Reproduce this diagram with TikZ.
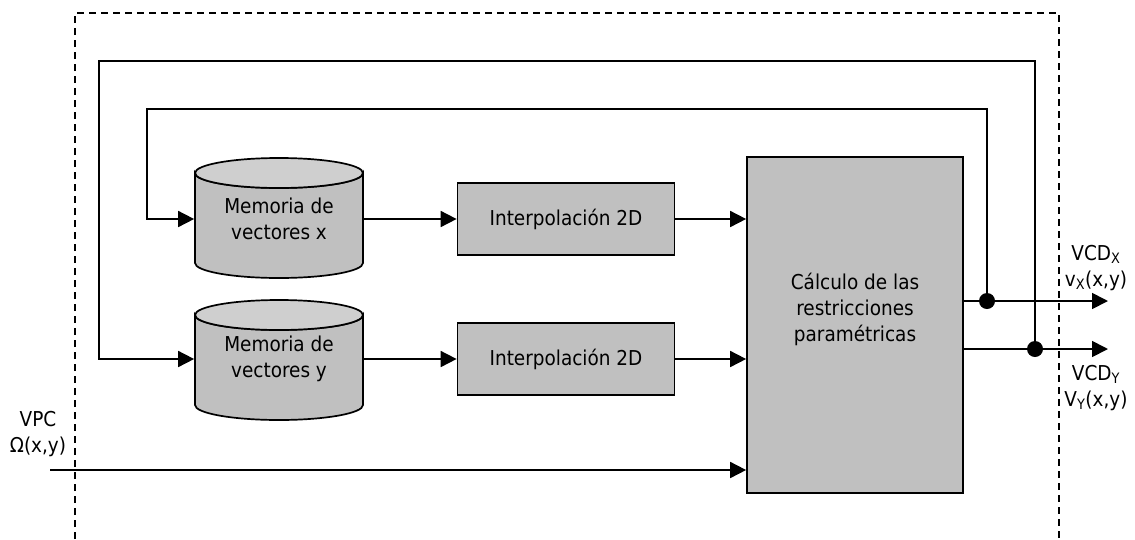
\documentclass[tikz,border=0pt]{standalone}
\usepackage{fontspec}
\setmainfont{DejaVu Sans Condensed}
\usetikzlibrary{arrows.meta,calc}
\definecolor{boxgray}{HTML}{C0C0C0}
\definecolor{lidgray}{HTML}{CFCFCF}
% cylinder outline: #1,#2 = centre, half width 84, body half height 45, end radius 15
\newcommand\memcyl[2]{%
  \filldraw[fill=boxgray] (#1-84,#2-45) -- (#1-84,#2+45)
    arc[start angle=180,end angle=0,x radius=84,y radius=15]
    -- (#1+84,#2-45)
    arc[start angle=0,end angle=180,x radius=84,y radius=15] -- cycle;
  \filldraw[fill=lidgray] (#1,#2-45) ellipse[x radius=84,y radius=15];
}
\begin{document}
\begin{tikzpicture}[x=1pt,y=-1pt,line width=1.7pt,
  txt/.style={font=\fontsize{20.5}{26}\selectfont,align=center,inner sep=0pt},
  block/.style={txt,draw,fill=boxgray},
  holder/.style={txt,minimum width=168pt,minimum height=120pt},
  flow/.style={-{Triangle[length=16pt,width=16pt]}},
  border/.style={line width=1.5pt,dash pattern=on 7pt off 5pt},
  junction/.style={circle,fill=black,inner sep=0pt,minimum size=16pt}]
\useasboundingbox (0,0) rectangle (1135,539);

% outer dashed frame (open at the bottom)
\draw[border] (75,539) -- (75,13) -- (1059,13) -- (1059,539);

% vector memories
\memcyl{279}{218}
\memcyl{279}{360}
\node[holder] (mx) at (279,219) {Memoria de\\vectores x};
\node[holder] (my) at (279,359) {Memoria de\\vectores y};

% interpolation blocks
\node[block,minimum width=217pt,minimum height=72pt] (ix) at (566,219) {Interpolación 2D};
\node[block,minimum width=217pt,minimum height=72pt] (iy) at (566,359) {Interpolación 2D};

% constraint block
\node[block,minimum width=216pt,minimum height=336pt] (calc) at (855,325) {};
\node[txt] (calctxt) at (855,309) {Cálculo de las\\restricciones\\paramétricas};

% junctions and free ends
\node[junction] (j1) at (987,301) {};
\node[junction] (j2) at (1035,349) {};
\coordinate (ox) at (1108,301);
\coordinate (oy) at (1108,349);
\coordinate (fbx) at (147,109);
\coordinate (fby) at (99,61);
\coordinate (vin) at (50,470);

% forward paths
\draw[flow] (mx.east) -- (ix.west);
\draw[flow] (my.east) -- (iy.west);
\draw[flow] (ix.east) -- (ix.east -| calc.west);
\draw[flow] (iy.east) -- (iy.east -| calc.west);
\draw[flow] (vin) -- (vin -| calc.west);

% outputs
\draw[flow] (calc.east |- j1) -- (ox);
\draw[flow] (calc.east |- j2) -- (oy);

% feedback loops
\draw[flow] (j1.center) |- (fbx) |- (mx.west);
\draw[flow] (j2.center) |- (fby) |- (my.west);

% labels
\node[txt] (vpc) at (38,434) {VPC\\Ω(x,y)};
\node[txt] (lx) at (1096,268) {VCD\textsubscript{X}\\v\textsubscript{X}(x,y)};
\node[txt] (ly) at (1096,388) {VCD\textsubscript{Y}\\V\textsubscript{Y}(x,y)};
\end{tikzpicture}
\end{document}
